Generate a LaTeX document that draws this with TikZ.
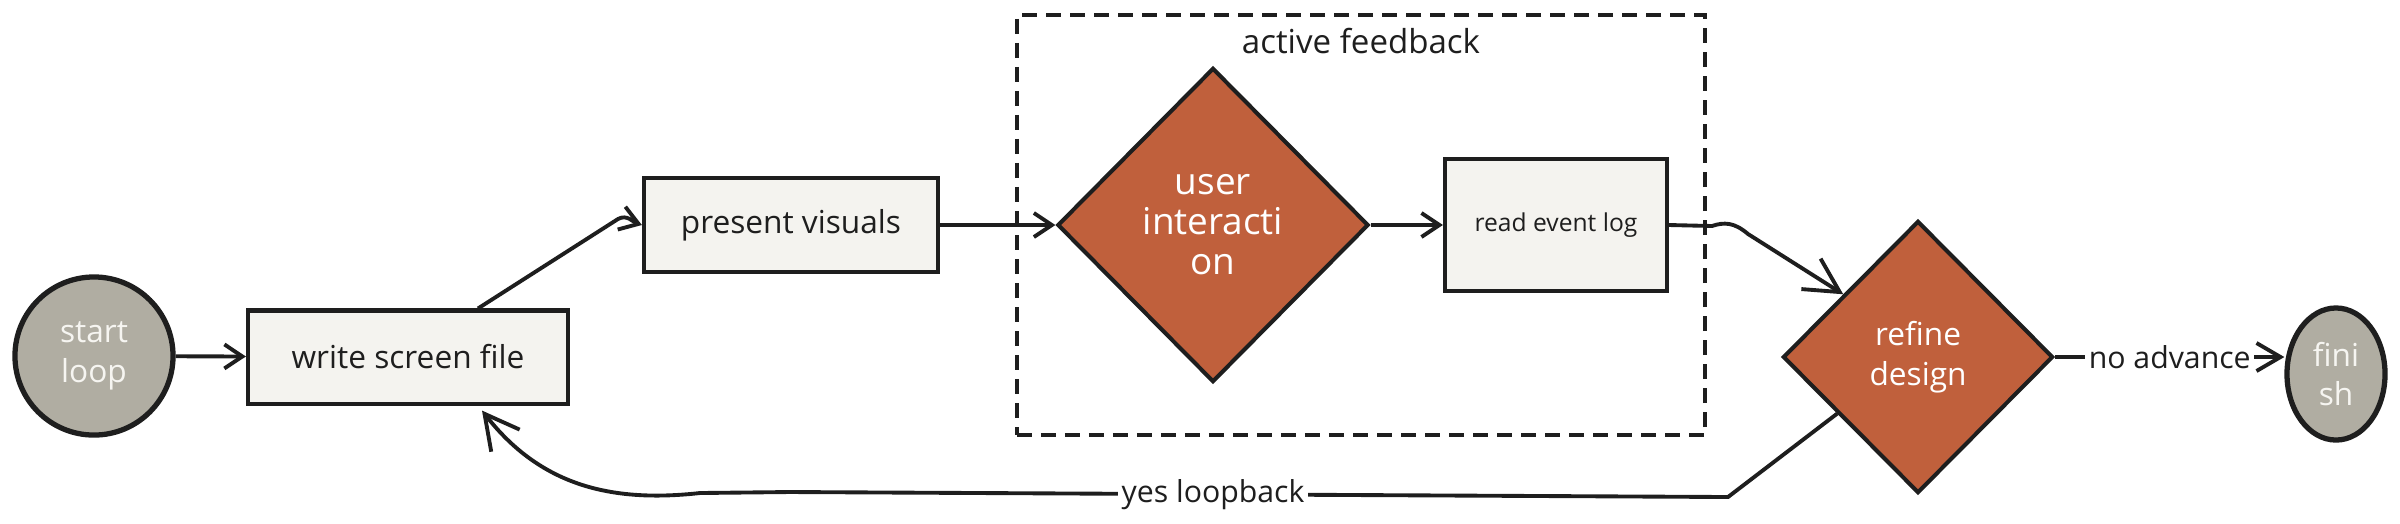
\documentclass[tikz,border=0pt]{standalone}
\usepackage{fontspec}
\setmainfont{Open Sans}
\usetikzlibrary{shapes.geometric,arrows.meta,calc}
\definecolor{ink}{HTML}{1E1E1E}
\definecolor{rust}{HTML}{C0603C}
\definecolor{stone}{HTML}{B0ADA2}
\definecolor{paper}{HTML}{F4F3EF}
\definecolor{light}{HTML}{F6F5F1}
\begin{document}
\begin{tikzpicture}[x=0.01cm,y=-0.01cm,
  every node/.style={font=\fontsize{9pt}{11.2pt}\selectfont, text=ink},
  procbox/.style={draw=ink,line width=1.15pt,fill=paper,rectangle,inner sep=0pt,align=center},
  decide/.style={draw=ink,line width=1.15pt,fill=rust,diamond,inner sep=0pt,align=center,text=white},
  term/.style={draw=ink,line width=1.5pt,fill=stone,inner sep=0pt,align=center,text=light},
  conn/.style={draw=ink,line width=1.1pt,-{Straight Barb[length=1.8mm,width=2.4mm]}},
  midconn/.style={draw=ink,line width=1.1pt,-{Straight Barb[length=2.4mm,width=2.8mm]}},
  longconn/.style={draw=ink,line width=1.1pt,-{Straight Barb[length=3.4mm,width=3.6mm]}},
  lbl/.style={fill=white,inner sep=1pt,font=\fontsize{8.6pt}{10pt}\selectfont},
  grpbox/.style={draw=ink,line width=1.05pt,dash pattern=on 1.5mm off 0.9mm,inner sep=0pt},
]
\useasboundingbox (0,0) rectangle (2400,523);

% group
\node[grpbox,minimum width=6.88cm,minimum height=4.2cm] (grp) at (1361,225) {};
\node[font=\fontsize{9.4pt}{11pt}\selectfont] (grplbl) at (1361,41) {active feedback};

% nodes
\node[term,circle,minimum size=1.58cm] (start) at (94,356) {start\\loop};
\node[procbox,minimum width=3.2cm,minimum height=0.93cm] (ws) at (408,357) {write screen file};
\node[procbox,minimum width=2.94cm,minimum height=0.94cm] (pv) at (791,225) {present visuals};
\node[decide,minimum width=3.11cm,minimum height=3.14cm,font=\fontsize{10.5pt}{11.4pt}\selectfont] (ui) at (1213,225) {user\\interacti\\on};
\node[procbox,minimum width=2.22cm,minimum height=1.32cm,font=\fontsize{7pt}{8.5pt}\selectfont] (rl) at (1556,225) {read event log};
\node[decide,minimum width=2.7cm,minimum height=2.72cm] (rd) at (1918,357) {refine\\design};
\node[term,ellipse,minimum width=0.98cm,minimum height=1.32cm] (fin) at (2336,374) {fini\\sh};

% connectors
\draw[conn] (start) -- (ws);
\draw[conn] ($(ws.north)+(70,0)$) -- (618,219) .. controls (627,214) and (633,222) .. (pv.west);
\draw[conn] (pv) -- (ui);
\draw[conn] (ui) -- (rl);
\draw[longconn] (rl.east) -- (1712,226) .. controls (1724,222) and (1734,222) .. (1748,234) -- (rd.140);
\draw[midconn] (rd.east) -- node[lbl] {no advance} (rd.east -| fin.west);
\draw[longconn] (rd.215) -- (1728,497) -- node[lbl,pos=0.549] {yes loopback} (790,492)
  -- (700,493) .. controls (610,503) and (540,485) .. ($(ws.south)+(74,5)$);
\end{tikzpicture}
\end{document}
